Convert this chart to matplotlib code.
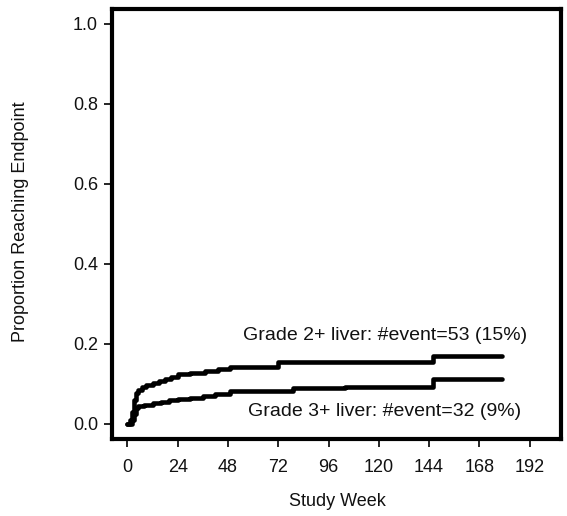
import matplotlib
matplotlib.use("Agg")
import matplotlib.pyplot as plt

plt.rcParams['font.family'] = ['Liberation Sans', 'DejaVu Sans']

# Data (step functions, cumulative proportion)
g2_weeks = [0, 1, 2, 3, 4, 5, 7, 9, 12, 15, 18, 21, 24, 30, 37, 43, 49, 72, 146, 179]
g2_prop = [0, 0.01, 0.03, 0.06, 0.078, 0.085, 0.093, 0.098, 0.102, 0.107, 0.112,
           0.118, 0.124, 0.128, 0.133, 0.137, 0.143, 0.154, 0.17, 0.17]

g3_weeks = [0, 2, 3, 4, 5, 8, 12, 16, 20, 24, 30, 36, 42, 49, 79, 104, 146, 179]
g3_prop = [0, 0.01, 0.025, 0.04, 0.045, 0.048, 0.052, 0.056, 0.06, 0.063, 0.066,
           0.07, 0.074, 0.082, 0.089, 0.093, 0.112, 0.112]

x_ticks = [0, 24, 48, 72, 96, 120, 144, 168, 192]
y_ticks = [0.0, 0.2, 0.4, 0.6, 0.8, 1.0]
y_tick_labels = ["0.0", "0.2", "0.4", "0.6", "0.8", "1.0"]

label_g2 = "Grade 2+ liver: #event=53 (15%)"
label_g3 = "Grade 3+ liver: #event=32 (9%)"

W, H = 567, 516
fig = plt.figure(figsize=(W / 100, H / 100), dpi=100)
ax = fig.add_axes([112 / W, 1 - 439 / H, 449 / W, 430 / H])

ax.step(g2_weeks, g2_prop, where="post", color="black", lw=3.3,
        solid_joinstyle="round", solid_capstyle="round")
ax.step(g3_weeks, g3_prop, where="post", color="black", lw=3.3,
        solid_joinstyle="round", solid_capstyle="round")

ax.set_xlim(-7.4, 207.0)
ax.set_ylim(-0.0375, 1.0375)

ax.set_xticks(x_ticks)
ax.set_xticklabels([str(v) for v in x_ticks])
ax.set_yticks(y_ticks)
ax.set_yticklabels(y_tick_labels)

for s in ax.spines.values():
    s.set_linewidth(3.0)
    s.set_color("black")

ax.tick_params(axis="both", direction="out", color="black", width=1.2,
               labelsize=13, labelcolor="#111111")
ax.tick_params(axis="x", length=5.5, pad=9)
ax.tick_params(axis="y", length=6, pad=4)

ax.text(55.0, 0.21, label_g2, fontsize=14, ha="left", va="baseline", color="#111111")
ax.text(57.7, 0.021, label_g3, fontsize=14, ha="left", va="baseline", color="#111111")

fig.text(337 / W, 1 - 501 / H, "Study Week", fontsize=13, ha="center", va="center",
         color="#111111")
fig.text(21 / W, 1 - 222 / H, "Proportion Reaching Endpoint", fontsize=13,
         rotation=90, ha="center", va="center", color="#111111")

fig.savefig("out.png", dpi=100)
